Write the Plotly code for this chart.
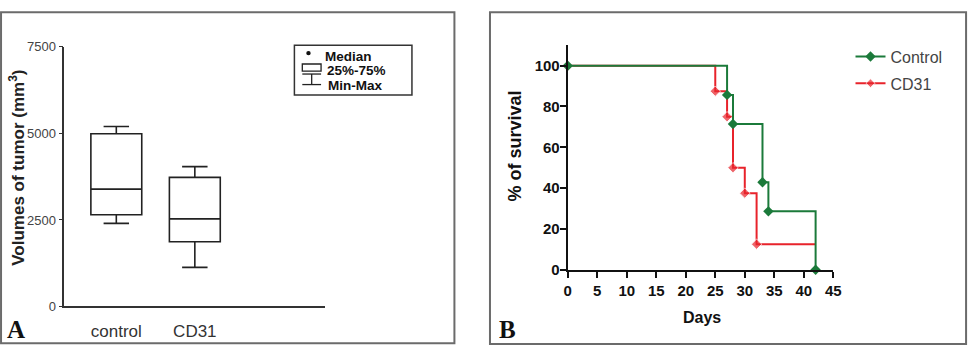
import plotly.graph_objects as go

W, H = 980, 354

# ---------------- data ----------------
groups = ["control", "CD31"]
vol_min = [2400, 1130]
vol_q1 = [2650, 1870]
vol_median = [3390, 2530]
vol_q3 = [4990, 3730]
vol_max = [5200, 4040]
vol_ticks = [0, 2500, 5000, 7500]

control_days = [0, 27, 28, 33, 34, 42]
control_surv = [100, 85.7, 71.4, 42.9, 28.6, 0]
cd31_days = [0, 25, 27, 28, 30, 32, 42]
cd31_surv = [100, 87.5, 75, 50, 37.5, 12.5, 12.5]
day_ticks = [0, 5, 10, 15, 20, 25, 30, 35, 40, 45]
surv_ticks = [0, 20, 40, 60, 80, 100]

GREEN = "#1b7a3a"
RED = "#e8232b"
NARROW = "Liberation Sans Narrow, Liberation Sans, Arial, sans-serif"
SANS = "Liberation Sans, Arial, sans-serif"


def px(x):
    return x / W


def py(y):
    return 1 - y / H


fig = go.Figure()

# ---------------- Panel A: box plot ----------------
for i, g in enumerate(groups):
    fig.add_trace(go.Box(
        x=[g], q1=[vol_q1[i]], median=[vol_median[i]], q3=[vol_q3[i]],
        lowerfence=[vol_min[i]], upperfence=[vol_max[i]],
        width=0.648, whiskerwidth=0.5,
        fillcolor="white", line=dict(color="#222222", width=1.6),
        boxpoints=False, showlegend=False, hoverinfo="skip",
        xaxis="x", yaxis="y",
    ))

# ---------------- Panel B: survival ----------------
cd31_sizes = [8] * (len(cd31_days) - 1) + [0]
fig.add_trace(go.Scatter(
    x=cd31_days, y=cd31_surv, mode="lines+markers", line_shape="hv",
    line=dict(color=RED, width=2), name="CD31",
    marker=dict(symbol="diamond", size=cd31_sizes, color=RED),
    xaxis="x2", yaxis="y2", cliponaxis=False, legendgroup="b", legendrank=2,
))
fig.add_trace(go.Scatter(
    x=control_days, y=control_surv, mode="lines+markers", line_shape="hv",
    line=dict(color=GREEN, width=2), name="Control",
    marker=dict(symbol="diamond", size=8, color=GREEN),
    xaxis="x2", yaxis="y2", cliponaxis=False, legendgroup="a", legendrank=1,
))

shapes = []
annotations = []

# panel borders
border = dict(type="rect", xref="paper", yref="paper",
              line=dict(color="#6b6b6b", width=2), fillcolor="rgba(0,0,0,0)", layer="below")
shapes.append(dict(border, x0=px(-3), x1=px(456), y0=py(351), y1=py(5.5)))
shapes.append(dict(border, x0=px(492), x1=px(974), y0=py(352), y1=py(5.5)))

# legend of panel A
lk = dict(xref="paper", yref="paper", line=dict(color="#222222", width=1.3))
shapes.append(dict(type="rect", x0=px(294), x1=px(413), y0=py(92), y1=py(40),
                   xref="paper", yref="paper", line=dict(color="#333333", width=1.5)))
shapes.append(dict(type="circle", x0=px(306), x1=px(310.5), y0=py(50.5), y1=py(46),
                   xref="paper", yref="paper", fillcolor="#111111", line=dict(width=0)))
shapes.append(dict(type="rect", x0=px(302), x1=px(321), y0=py(67), y1=py(59.5), **lk))
shapes.append(dict(type="line", x0=px(302), x1=px(321), y0=py(70), y1=py(70), **lk))
shapes.append(dict(type="line", x0=px(311.5), x1=px(311.5), y0=py(70), y1=py(81), **lk))
shapes.append(dict(type="line", x0=px(302), x1=px(321), y0=py(81), y1=py(81), **lk))
for txt, xx, yy in [("Median", 324, 51.5), ("25%-75%", 326, 66), ("Min-Max", 327, 81.5)]:
    annotations.append(dict(text=txt, x=px(xx), y=py(yy), xref="paper", yref="paper",
                            xanchor="left", yanchor="middle", showarrow=False,
                            borderpad=0,
                            font=dict(family=SANS, size=13.5, color="#111111", weight="bold")))

# axis titles
annotations.append(dict(text="Volumes of tumor (mm<sup>3</sup>)", x=px(13), y=py(168),
                        xref="paper", yref="paper", textangle=-90, showarrow=False,
                        xanchor="center", yanchor="middle",
                        font=dict(family=SANS, size=17, color="#222222", weight="bold")))
annotations.append(dict(text="% of survival", x=px(517), y=py(145),
                        xref="paper", yref="paper", textangle=-90, showarrow=False,
                        xanchor="center", yanchor="middle",
                        font=dict(family=SANS, size=18, color="#111111", weight="bold")))
annotations.append(dict(text="Days", x=px(707), y=py(324),
                        xref="paper", yref="paper", showarrow=False,
                        xanchor="center", yanchor="middle",
                        font=dict(family=NARROW, size=16, color="#111111", weight="bold")))

# panel letters
for letter, xx, yy in [("A", 12, 337), ("B", 510, 337)]:
    annotations.append(dict(text=letter, x=px(xx), y=py(yy), xref="paper", yref="paper",
                            showarrow=False, xanchor="center", yanchor="middle",
                            font=dict(family="Liberation Serif, Times New Roman, serif",
                                      size=25, color="#111111", weight="bold")))

fig.update_layout(
    width=W, height=H, margin=dict(l=0, r=0, t=0, b=0),
    paper_bgcolor="white", plot_bgcolor="white",
    shapes=shapes, annotations=annotations,
    xaxis=dict(domain=[px(61), px(325)], type="category", categoryorder="array",
               categoryarray=groups, range=[-0.663, 2.658],
               showline=True, linecolor="#333333", linewidth=1.5, ticks="",
               showgrid=False, zeroline=False, anchor="y", ticklabelstandoff=8,
               tickfont=dict(family=SANS, size=17, color="#333333")),
    yaxis=dict(domain=[py(312.7), py(41.7)], range=[0, 7500], tickvals=vol_ticks,
               showline=True, linecolor="#333333", linewidth=1.5, ticks="outside",
               ticklen=4, tickwidth=1.3, tickcolor="#333333",
               showgrid=False, zeroline=False, anchor="x",
               tickfont=dict(family=NARROW, size=13, color="#444444")),
    xaxis2=dict(domain=[px(570.7), px(839.6)], range=[0, 45], tickvals=day_ticks,
                showline=True, linecolor="#111111", linewidth=2, ticks="outside",
                ticklen=6, tickwidth=2, tickcolor="#111111",
                showgrid=False, zeroline=False, anchor="y2",
                tickfont=dict(family=NARROW, size=15, color="#111111", weight="bold")),
    yaxis2=dict(domain=[py(274.3), py(40)], range=[0, 110], tickvals=surv_ticks,
                showline=True, linecolor="#111111", linewidth=2, ticks="outside",
                ticklen=6, tickwidth=2, tickcolor="#111111", ticklabelstandoff=-3,
                showgrid=False, zeroline=False, anchor="x2",
                tickfont=dict(family=NARROW, size=15, color="#111111", weight="bold")),
    showlegend=True,
    legend=dict(x=px(857), y=py(34), xanchor="left", yanchor="top",
                bgcolor="rgba(0,0,0,0)", borderwidth=0, tracegroupgap=3,
                font=dict(family=NARROW, size=16, color="#444444")),
)

fig.write_html("out.html")
